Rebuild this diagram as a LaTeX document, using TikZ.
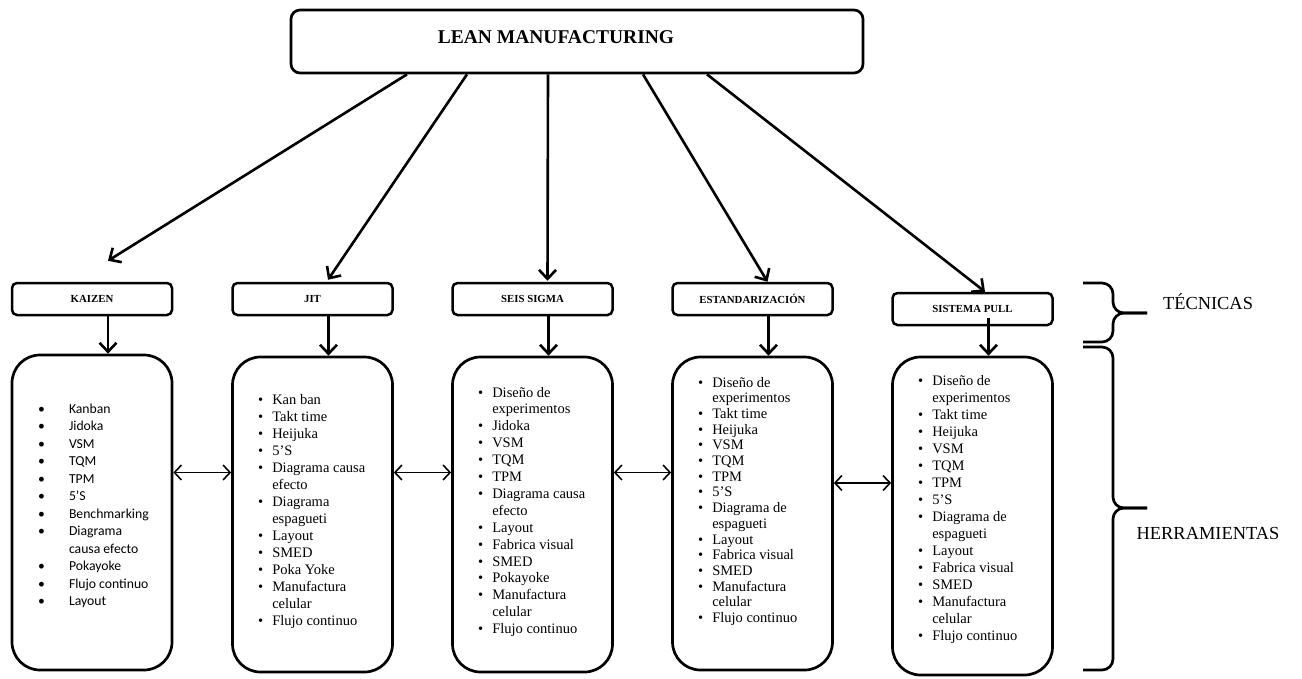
\documentclass[tikz,border=0pt]{standalone}
\usepackage{fontspec}
\setmainfont{Liberation Serif}
\newfontfamily\kaizenfont{Carlito}
\usetikzlibrary{arrows.meta,positioning}
\tikzset{
  mainbox/.style={draw=black,line width=2.7pt,rounded corners=9pt,
                  minimum width=572pt,minimum height=63pt,inner sep=0pt},
  tecbox/.style={draw=black,line width=2.5pt,rounded corners=5pt,
                 minimum width=160pt,minimum height=32pt,inner sep=0pt,
                 font=\fontsize{10.8}{12}\selectfont\bfseries},
  toolbox/.style={draw=black,line width=2.7pt,rounded corners=28pt,
                  minimum width=160pt,inner sep=0pt},
  toollist/.style={anchor=base west,inner sep=0pt,align=left},
  sidelabel/.style={font=\fontsize{18.4}{20}\selectfont},
  bracepath/.style={line width=2.7pt,rounded corners=11pt},
  flowarr/.style={-{Straight Barb[length=9pt,width=17pt]},line width=2.6pt},
  linkarr/.style={{Straight Barb[length=7pt,width=15pt]}-{Straight Barb[length=7pt,width=15pt]},line width=1.6pt}
}
\newcommand{\itemrows}[2]{\begin{tabular}[t]{@{}l@{\hspace{#1}}l@{}}#2\end{tabular}}

\begin{document}
\begin{tikzpicture}[x=1pt,y=-1pt]
  \fill[white] (0,0) rectangle (1302,678);
  \useasboundingbox (0,0) rectangle (1302,678);

  % top box
  \node[mainbox] (lean) at (577,41.5) {};
  \node[font=\fontsize{19.5}{22}\selectfont\bfseries] (leantext) at (556,37) {LEAN MANUFACTURING};

  % tecnicas
  \node[tecbox] (kaizen) at (92,299) {KAIZEN};
  \node[tecbox] (jit) at (312.5,299) {JIT};
  \node[tecbox] (seis) at (532.5,299) {SEIS SIGMA};
  \node[tecbox] (estand) at (752.5,299) {ESTANDARIZACIÓN};
  \node[tecbox] (pull) at (972.5,309) {SISTEMA PULL};

  % herramientas
  \node[toolbox,minimum height=315pt] (kaizenT) at (92,512.5) {};
  \node[toolbox,minimum height=315pt] (jitT) at (312.5,514.5) {};
  \node[toolbox,minimum height=315pt] (seisT) at (532.5,514.5) {};
  \node[toolbox,minimum height=313pt] (estandT) at (752.5,513.5) {};
  \node[toolbox,minimum height=318pt] (pullT) at (972.5,516) {};

  \node[toollist,font=\kaizenfont\fontsize{13.7}{17.5}\selectfont] (kaizenL) at (38,413) {\itemrows{24pt}{%
    \textbullet & Kanban\\ \textbullet & Jidoka\\ \textbullet & VSM\\ \textbullet & TQM\\
    \textbullet & TPM\\ \textbullet & 5’S\\ \textbullet & Benchmarking\\
    \textbullet & Diagrama\\ & causa efecto\\ \textbullet & Pokayoke\\
    \textbullet & Flujo continuo\\ \textbullet & Layout}};
  \node[toollist,font=\fontsize{14.5}{17}\selectfont] (jitL) at (258,404) {\itemrows{9pt}{%
    \textbullet & Kan ban\\ \textbullet & Takt time\\ \textbullet & Heijuka\\ \textbullet & 5’S\\
    \textbullet & Diagrama causa\\ & efecto\\ \textbullet & Diagrama\\ & espagueti\\
    \textbullet & Layout\\ \textbullet & SMED\\ \textbullet & Poka Yoke\\
    \textbullet & Manufactura\\ & celular\\ \textbullet & Flujo continuo}};
  \node[toollist,font=\fontsize{14.5}{16.9}\selectfont] (seisL) at (478,397) {\itemrows{9pt}{%
    \textbullet & Diseño de\\ & experimentos\\ \textbullet & Jidoka\\ \textbullet & VSM\\
    \textbullet & TQM\\ \textbullet & TPM\\ \textbullet & Diagrama causa\\ & efecto\\
    \textbullet & Layout\\ \textbullet & Fabrica visual\\ \textbullet & SMED\\
    \textbullet & Pokayoke\\ \textbullet & Manufactura\\ & celular\\ \textbullet & Flujo continuo}};
  \node[toollist,font=\fontsize{14.5}{15.7}\selectfont] (estandL) at (698,387) {\itemrows{9pt}{%
    \textbullet & Diseño de\\ & experimentos\\ \textbullet & Takt time\\ \textbullet & Heijuka\\
    \textbullet & VSM\\ \textbullet & TQM\\ \textbullet & TPM\\ \textbullet & 5’S\\
    \textbullet & Diagrama de\\ & espagueti\\ \textbullet & Layout\\ \textbullet & Fabrica visual\\
    \textbullet & SMED\\ \textbullet & Manufactura\\ & celular\\ \textbullet & Flujo continuo}};
  \node[toollist,font=\fontsize{14.5}{17}\selectfont] (pullL) at (918,385) {\itemrows{9pt}{%
    \textbullet & Diseño de\\ & experimentos\\ \textbullet & Takt time\\ \textbullet & Heijuka\\
    \textbullet & VSM\\ \textbullet & TQM\\ \textbullet & TPM\\ \textbullet & 5’S\\
    \textbullet & Diagrama de\\ & espagueti\\ \textbullet & Layout\\ \textbullet & Fabrica visual\\
    \textbullet & SMED\\ \textbullet & Manufactura\\ & celular\\ \textbullet & Flujo continuo}};

  % arrows from the top box
  \draw[flowarr] ([xshift=-170pt]lean.south) -- ([xshift=16pt,yshift=21pt]kaizen.north);
  \draw[flowarr] ([xshift=-110pt]lean.south) -- ([xshift=15.5pt,yshift=2pt]jit.north);
  \draw[flowarr] ([xshift=-29pt]lean.south) -- ([xshift=15pt,yshift=1pt]seis.north);
  \draw[flowarr] ([xshift=66pt]lean.south) -- ([xshift=15pt]estand.north);
  \draw[flowarr] ([xshift=130pt]lean.south) -- ([xshift=12.5pt]pull.north);

  % tecnica -> herramientas
  \foreach \t in {kaizen,jit,seis,estand}
    \draw[flowarr] ([xshift=16pt]\t.south) -- ([xshift=16pt]\t.south |- \t T.north);
  \draw[flowarr] ([xshift=16pt,yshift=8pt]pull.south) -- ([xshift=16pt]pull.south |- pullT.north);

  % links between boxes
  \draw[linkarr] ([yshift=40pt]kaizenT.east) -- ([yshift=40pt]kaizenT.east -| jitT.west);
  \draw[linkarr] ([yshift=42pt]jitT.east) -- ([yshift=42pt]jitT.east -| seisT.west);
  \draw[linkarr] ([yshift=42pt]seisT.east) -- ([yshift=42pt]seisT.east -| estandT.west);
  \draw[linkarr] ([yshift=30.5pt]estandT.east) -- ([yshift=30.5pt]estandT.east -| pullT.west);

  % braces
  \draw[bracepath] (1083,283) -| (1113,313) -- (1147,313);
  \draw[bracepath] (1083,342) -| (1113,313) -- (1147,313);
  \draw[bracepath] (1083,347) -| (1113,508) -- (1147,508);
  \draw[bracepath] (1083,670) -| (1113,508) -- (1147,508);
  \node[sidelabel] (tecnicas) at (1208,302) {TÉCNICAS};
  \node[sidelabel] (herramientas) at (1208,533) {HERRAMIENTAS};
\end{tikzpicture}
\end{document}
